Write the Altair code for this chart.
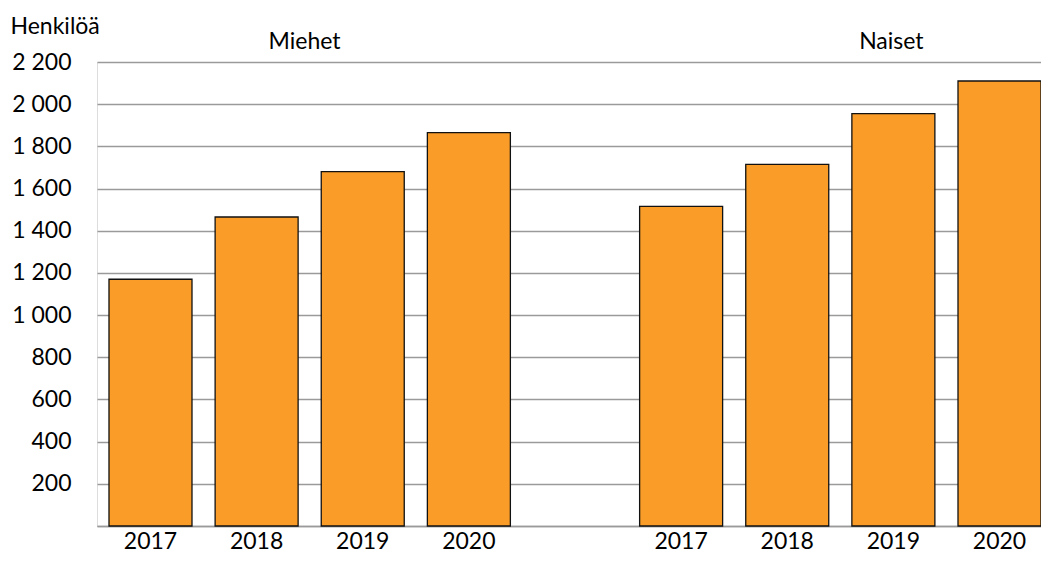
import altair as alt
import pandas as pd

groups = ["Miehet", "Naiset"]
years = ["2017", "2018", "2019", "2020"]
miehet = [1170, 1465, 1680, 1865]
naiset = [1515, 1715, 1955, 2110]
y_ticks = [0, 200, 400, 600, 800, 1000, 1200, 1400, 1600, 1800, 2000, 2200]

rows = []
for g, vals in zip(groups, [miehet, naiset]):
    for yr, v in zip(years, vals):
        rows.append({"key": f"{g} {yr}", "group": g, "year": yr, "value": v})
df = pd.DataFrame(rows)

domain = [f"Miehet {y}" for y in years] + [" "] + [f"Naiset {y}" for y in years]

FONT = "Lato"

x_scale = alt.Scale(domain=domain, paddingInner=0.2179, paddingOuter=0.0565, align=1)
y_scale = alt.Scale(domain=[0, 2200], nice=False)

bars = alt.Chart(df).mark_bar(
    color="#F99D28", stroke="#111111", strokeWidth=1.3
).encode(
    x=alt.X("key:N", scale=x_scale, sort=domain,
            axis=alt.Axis(title=None, labelExpr="length(datum.value) > 4 ? slice(datum.value, -4) : ''",
                          labelAngle=0, ticks=False, tickSize=0, labelPadding=4,
                          domain=True, domainColor="#9a9a9a", domainWidth=1.5,
                          labelFontSize=23, labelFont=FONT, labelColor="#000000")),
    y=alt.Y("value:Q", scale=y_scale,
            axis=alt.Axis(title="Henkilöä", values=y_ticks,
                          labelExpr="datum.value == 0 ? '' : replace(format(datum.value, ','), ',', ' ')",
                          grid=True, gridColor="#9a9a9a", gridWidth=1.5,
                          domain=False, ticks=False, tickSize=0, labelPadding=26,
                          labelFontSize=23, labelFont=FONT, labelColor="#000000",
                          titleAngle=0, titleAlign="left", titleBaseline="alphabetic",
                          titleX=-87, titleY=-29, titleFontSize=23, titleFont=FONT,
                          titleFontWeight="normal", titleColor="#000000")),
)

label_df = pd.DataFrame({"group": groups, "anchor": ["Miehet 2018", "Naiset 2019"]})

lab_m = alt.Chart(label_df[label_df.group == "Miehet"]).mark_text(
    fontSize=23, font=FONT, color="#000000", dx=48, dy=-13, baseline="alphabetic"
).encode(x=alt.X("anchor:N", scale=x_scale, sort=domain), y=alt.datum(2200), text="group:N")

lab_n = alt.Chart(label_df[label_df.group == "Naiset"]).mark_text(
    fontSize=23, font=FONT, color="#000000", dx=-2, dy=-13, baseline="alphabetic"
).encode(x=alt.X("anchor:N", scale=x_scale, sort=domain), y=alt.datum(2200), text="group:N")

chart = alt.layer(bars, lab_m, lab_n).properties(
    width=944, height=464,
    autosize=alt.AutoSizeParams(type="none"),
    padding={"left": 89, "top": 54, "right": 0, "bottom": 31},
).configure_view(stroke=None).configure(background="white")

chart.save("out.html", embed_options={"renderer": "svg", "actions": False})
